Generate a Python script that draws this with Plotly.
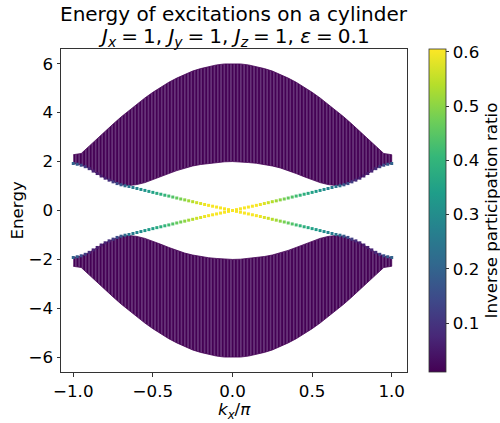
import plotly.graph_objects as go

# ---- data ----
kx_band = [-1.0, -0.95, -0.9, -0.85, -0.8, -0.75, -0.7, -0.65, -0.6, -0.55, -0.5,
           -0.45, -0.4, -0.35, -0.3, -0.25, -0.2, -0.15, -0.1, -0.05, 0.0,
           0.05, 0.1, 0.15, 0.2, 0.25, 0.3, 0.35, 0.4, 0.45, 0.5,
           0.55, 0.6, 0.65, 0.7, 0.75, 0.8, 0.85, 0.9, 0.95, 1.0]

upper_band_top = [2.28, 2.33, 2.63, 2.94, 3.24, 3.53, 3.82, 4.09, 4.35, 4.60, 4.83,
                  5.04, 5.24, 5.41, 5.56, 5.70, 5.80, 5.89, 5.95, 5.99, 6.00,
                  5.99, 5.95, 5.89, 5.80, 5.70, 5.56, 5.41, 5.24, 5.04, 4.83,
                  4.60, 4.35, 4.09, 3.82, 3.53, 3.24, 2.94, 2.63, 2.33, 2.28]
upper_band_bottom = [1.92, 1.86, 1.72, 1.51, 1.32, 1.18, 1.05, 1.02, 1.06, 1.14, 1.25,
                     1.38, 1.51, 1.63, 1.74, 1.82, 1.88, 1.93, 1.96, 1.99, 2.00,
                     1.99, 1.96, 1.93, 1.88, 1.82, 1.74, 1.63, 1.51, 1.38, 1.25,
                     1.14, 1.06, 1.02, 1.05, 1.18, 1.32, 1.51, 1.72, 1.86, 1.92]
lower_band_top = [-1.92, -1.86, -1.72, -1.51, -1.32, -1.18, -1.05, -1.02, -1.06, -1.14, -1.25,
                  -1.38, -1.51, -1.63, -1.74, -1.82, -1.88, -1.93, -1.96, -1.99, -2.00,
                  -1.99, -1.96, -1.93, -1.88, -1.82, -1.74, -1.63, -1.51, -1.38, -1.25,
                  -1.14, -1.06, -1.02, -1.05, -1.18, -1.32, -1.51, -1.72, -1.86, -1.92]
lower_band_bottom = [-2.28, -2.33, -2.63, -2.94, -3.24, -3.53, -3.82, -4.09, -4.35, -4.60, -4.83,
                     -5.04, -5.24, -5.41, -5.56, -5.70, -5.80, -5.89, -5.95, -5.99, -6.00,
                     -5.99, -5.95, -5.89, -5.80, -5.70, -5.56, -5.41, -5.24, -5.04, -4.83,
                     -4.60, -4.35, -4.09, -3.82, -3.53, -3.24, -2.94, -2.63, -2.33, -2.28]

kx_edge = [-1.0, -0.975, -0.95, -0.925, -0.9, -0.875, -0.85, -0.825, -0.8, -0.775,
           -0.75, -0.725, -0.7, -0.675, -0.65, -0.625, -0.6, -0.575, -0.55, -0.525,
           -0.5, -0.475, -0.45, -0.425, -0.4, -0.375, -0.35, -0.325, -0.3, -0.275,
           -0.25, -0.225, -0.2, -0.175, -0.15, -0.125, -0.1, -0.075, -0.05, -0.025,
           0.0,
           0.025, 0.05, 0.075, 0.1, 0.125, 0.15, 0.175, 0.2, 0.225, 0.25,
           0.275, 0.3, 0.325, 0.35, 0.375, 0.4, 0.425, 0.45, 0.475, 0.5,
           0.525, 0.55, 0.575, 0.6, 0.625, 0.65, 0.675, 0.7, 0.725, 0.75,
           0.775, 0.8, 0.825, 0.85, 0.875, 0.9, 0.925, 0.95, 0.975, 1.0]

edge_a_energy = [1.92, 1.89, 1.85, 1.79, 1.71, 1.61, 1.51, 1.41, 1.32, 1.24,
                 1.17, 1.10, 1.05, 1.01, 0.98, 0.94, 0.90, 0.86, 0.82, 0.78,
                 0.74, 0.70, 0.665, 0.625, 0.59, 0.55, 0.51, 0.47, 0.435, 0.395,
                 0.36, 0.32, 0.285, 0.245, 0.21, 0.175, 0.14, 0.105, 0.07, 0.035,
                 0.00,
                 -0.035, -0.07, -0.105, -0.14, -0.175, -0.21, -0.245, -0.285, -0.32, -0.36,
                 -0.395, -0.435, -0.47, -0.51, -0.55, -0.59, -0.625, -0.665, -0.70, -0.74,
                 -0.78, -0.82, -0.86, -0.90, -0.94, -0.98, -1.01, -1.05, -1.10, -1.17,
                 -1.24, -1.32, -1.41, -1.51, -1.61, -1.71, -1.79, -1.85, -1.89, -1.92]
edge_b_energy = [-1.92, -1.89, -1.85, -1.79, -1.71, -1.61, -1.51, -1.41, -1.32, -1.24,
                 -1.17, -1.10, -1.05, -1.01, -0.98, -0.94, -0.90, -0.86, -0.82, -0.78,
                 -0.74, -0.70, -0.665, -0.625, -0.59, -0.55, -0.51, -0.47, -0.435, -0.395,
                 -0.36, -0.32, -0.285, -0.245, -0.21, -0.175, -0.14, -0.105, -0.07, -0.035,
                 0.00,
                 0.035, 0.07, 0.105, 0.14, 0.175, 0.21, 0.245, 0.285, 0.32, 0.36,
                 0.395, 0.435, 0.47, 0.51, 0.55, 0.59, 0.625, 0.665, 0.70, 0.74,
                 0.78, 0.82, 0.86, 0.90, 0.94, 0.98, 1.01, 1.05, 1.10, 1.17,
                 1.24, 1.32, 1.41, 1.51, 1.61, 1.71, 1.79, 1.85, 1.89, 1.92]
edge_ipr = [0.20, 0.18, 0.15, 0.12, 0.09, 0.07, 0.06, 0.06, 0.07, 0.09,
            0.12, 0.15, 0.18, 0.22, 0.24, 0.26, 0.28, 0.30, 0.32, 0.335,
            0.35, 0.37, 0.385, 0.40, 0.42, 0.44, 0.46, 0.48, 0.50, 0.52,
            0.54, 0.56, 0.575, 0.59, 0.60, 0.60, 0.60, 0.60, 0.60, 0.60,
            0.60,
            0.60, 0.60, 0.60, 0.60, 0.60, 0.60, 0.59, 0.575, 0.56, 0.54,
            0.52, 0.50, 0.48, 0.46, 0.44, 0.42, 0.40, 0.385, 0.37, 0.35,
            0.335, 0.32, 0.30, 0.28, 0.26, 0.24, 0.22, 0.18, 0.15, 0.12,
            0.09, 0.07, 0.06, 0.06, 0.07, 0.09, 0.12, 0.15, 0.18, 0.20]

ipr_min, ipr_max = 0.01, 0.605
cbar_ticks = [0.1, 0.2, 0.3, 0.4, 0.5, 0.6]
x_ticks = [-1.0, -0.5, 0.0, 0.5, 1.0]
y_ticks = [-6, -4, -2, 0, 2, 4, 6]

# ---- figure ----
FONT = "DejaVu Sans"
band_color = "#440154"
fig = go.Figure()

for top, bottom in [(upper_band_top, upper_band_bottom), (lower_band_top, lower_band_bottom)]:
    fig.add_trace(go.Scatter(
        x=kx_band + kx_band[::-1],
        y=top + bottom[::-1],
        mode="lines", fill="toself",
        line=dict(width=0.8, color=band_color),
        fillcolor=band_color,
        fillpattern=dict(shape="|", size=3.3, solidity=0.3,
                         fgcolor="#b8a4cc", bgcolor=band_color),
        hoverinfo="skip", showlegend=False))

for i, energy in enumerate([edge_a_energy, edge_b_energy]):
    fig.add_trace(go.Scatter(
        x=kx_edge, y=energy, mode="markers",
        marker=dict(symbol="square", size=3, color=edge_ipr,
                    colorscale="Viridis", cmin=ipr_min, cmax=ipr_max,
                    line=dict(width=0),
                    showscale=(i == 0),
                    colorbar=dict(
                        x=1.0636, xanchor="left", xpad=0,
                        y=0.5, yanchor="middle", len=1.0, lenmode="fraction",
                        thickness=17, ypad=0,
                        outlinewidth=0.8, outlinecolor="#333",
                        tickvals=cbar_ticks, ticktext=[f"{v:.1f}" for v in cbar_ticks],
                        ticks="outside", ticklen=3.5, tickcolor="#333",
                        tickfont=dict(family=FONT, size=16.7, color="black"))),
        hoverinfo="skip", showlegend=False))

fig.update_xaxes(range=[-1.077, 1.096], tickvals=x_ticks,
                 ticktext=["\u22121.0", "\u22120.5", "0.0", "0.5", "1.0"],
                 showgrid=False, zeroline=False, showline=True, mirror=True,
                 linecolor="#333", linewidth=1, ticks="outside", ticklen=3.5,
                 tickcolor="#333", tickfont=dict(family=FONT, size=16.7, color="black"))
fig.update_yaxes(range=[-6.6, 6.6], tickvals=y_ticks,
                 ticktext=["\u22126", "\u22124", "\u22122", "0", "2", "4", "6"],
                 showgrid=False, zeroline=False, showline=True, mirror=True,
                 linecolor="#333", linewidth=1, ticks="outside", ticklen=3.5,
                 tickcolor="#333", tickfont=dict(family=FONT, size=16.7, color="black"))

annotations = [
    dict(text="Energy of excitations on a cylinder", x=0.5, y=1.108,
         font=dict(size=20)),
    dict(text="<i>J</i><sub><i>x</i></sub>\u2005=\u20051, <i>J</i><sub><i>y</i></sub>\u2005=\u20051, "
              "<i>J</i><sub><i>z</i></sub>\u2005=\u20051, <i>ε</i>\u2005=\u20050.1",
         x=0.5, y=1.037, font=dict(size=20)),
    dict(text="Energy", x=-0.130, y=0.5, textangle=-90, font=dict(size=16.7)),
    dict(text="<i>k</i><sub><i>x</i></sub>/<i>π</i>", x=0.5, y=-0.118,
         font=dict(size=16.7)),
    dict(text="Inverse participation ratio", x=1.240, y=0.5, textangle=-90,
         font=dict(size=16.7)),
]
for a in annotations:
    a.update(xref="paper", yref="paper", showarrow=False,
             xanchor="center", yanchor="middle")
    a["font"].update(family=FONT, color="black")

fig.update_layout(
    width=500, height=423,
    margin=dict(l=61, r=93, t=49, b=51, autoexpand=False),
    paper_bgcolor="white", plot_bgcolor="white",
    font=dict(family=FONT, color="black"),
    annotations=annotations,
)

# remove the default 8 px page margin so the figure sits at the window's corner
fig.write_html("out.html",
               config={"displayModeBar": False},
               post_script="document.body.style.margin='0';"
                           "document.body.style.overflow='hidden';")
